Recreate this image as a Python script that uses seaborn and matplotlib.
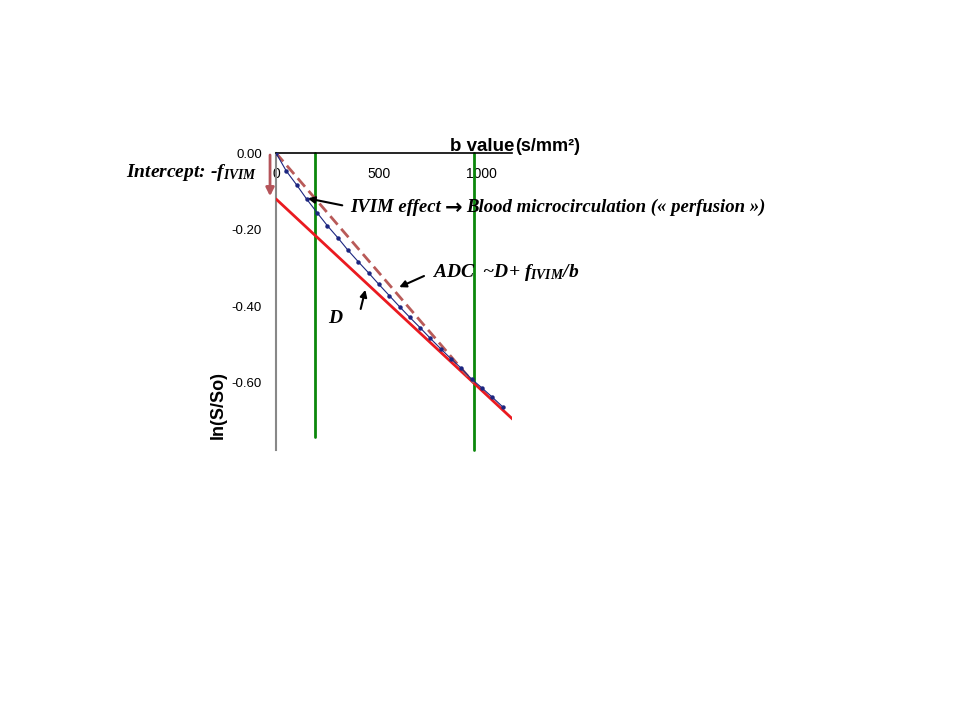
import matplotlib
matplotlib.use("Agg")
import matplotlib.pyplot as plt
import seaborn as sns
import pandas as pd

# ---- data ----
b_values = [0, 50, 100, 150, 200, 250, 300, 350, 400, 450, 500, 550,
            600, 650, 700, 750, 800, 850, 900, 950, 1000, 1050, 1100]
ln_signal = [0.0, -0.047, -0.083, -0.121, -0.156, -0.190, -0.221, -0.254,
             -0.284, -0.313, -0.343, -0.372, -0.401, -0.429, -0.456, -0.484,
             -0.511, -0.537, -0.562, -0.590, -0.613, -0.637, -0.662]
d_b = [0, 1150]
d_line = [-0.12, -0.695]
adc_b = [0, 960]
adc_line = [0.0, -0.60]
green_b = [190, 960]
green_bottom = [-0.741, -0.775]
x_ticks = [0, 500, 1000]
y_ticks = [0.0, -0.2, -0.4, -0.6]

sns.set_style("white")
plt.rcParams['font.family'] = ['Liberation Sans', 'DejaVu Sans']
plt.rcParams['axes.unicode_minus'] = False
plt.rcParams['text.color'] = 'black'
plt.rcParams['xtick.color'] = 'black'
plt.rcParams['ytick.color'] = 'black'
plt.rcParams['axes.labelcolor'] = 'black'
plt.rcParams['mathtext.fontset'] = 'custom'
plt.rcParams['mathtext.it'] = 'Liberation Serif:italic:bold'
plt.rcParams['mathtext.rm'] = 'Liberation Serif:italic:bold'

fig = plt.figure(figsize=(9.6, 7.2), dpi=100)
ax = fig.add_axes([276/960, 1-450/720, 236/960, 297/720])

df = pd.DataFrame({"b": b_values, "ln": ln_signal})
sns.lineplot(data=df, x="b", y="ln", ax=ax, color="#1c2680", lw=0.8,
             marker="o", markersize=3.2, markeredgewidth=0, zorder=4)
sns.lineplot(x=d_b, y=d_line, ax=ax, color="#ea1a20", lw=2, zorder=3)
sns.lineplot(x=adc_b, y=adc_line, ax=ax, color="#b95a58", lw=2,
             zorder=3).lines[-1].set_dashes((4, 2))
for gb, gbot in zip(green_b, green_bottom):
    ax.plot([gb, gb], [0, gbot], color="#0b870b", lw=2, zorder=2,
            clip_on=False)

ax.set_xlim(0, 1146)
ax.set_ylim(-0.775, 0)
ax.set_xticks(x_ticks)
ax.set_yticks(y_ticks)
ax.set_yticklabels([f"{v:.2f}" for v in y_ticks])
ax.set_xlabel("")
ax.set_ylabel("")

for s in ["top", "right"]:
    ax.spines[s].set_visible(False)
ax.spines["bottom"].set_position(("data", 0))
ax.spines["bottom"].set_color("black")
ax.spines["bottom"].set_linewidth(1.2)
ax.spines["left"].set_color("#888888")
ax.spines["left"].set_linewidth(1.5)
ax.tick_params(axis="x", direction="out", length=3, width=1, pad=7,
               labelsize=10, colors="black")
ax.tick_params(axis="y", length=0, pad=10, labelsize=9.5, colors="black")

# axis titles
fig.text(450/960, 1-151/720, "b value", ha="left", va="baseline",
         fontsize=13.5, fontweight="bold")
fig.text(515/960, 1-151/720, "(s/mm²)", ha="left", va="baseline",
         fontsize=13, fontweight="bold")
fig.text(218/960, 1-405/720, "ln(S/So)", ha="center", va="center",
         rotation=90, fontsize=13, fontweight="bold")

# annotations
serif = dict(family=["Liberation Serif", "DejaVu Serif"], fontweight="bold",
             style="italic", fontsize=13.5)
fig.text(126/960, 1-177/720, r"Intercept: -$f_{IVIM}$", ha="left",
         va="baseline", **dict(serif, fontsize=14))
fig.text(350/960, 1-212/720, "IVIM effect", ha="left", va="baseline",
         **serif)
fig.text(445/960, 1-214/720, "\u2192", ha="left", va="baseline",
         family="DejaVu Sans", fontweight="bold", fontsize=15)
fig.text(466/960, 1-212/720, "Blood microcirculation (\u00ab perfusion \u00bb)",
         ha="left", va="baseline", **serif)
fig.text(432/960, 1-277/720, r"ADC  ~D+ $f_{IVIM}$/b", ha="left",
         va="baseline", **dict(serif, fontsize=14))
fig.text(328/960, 1-323/720, "D", ha="left", va="baseline",
         **dict(serif, fontsize=14))

arrow = dict(arrowstyle="-|>", color="black", lw=1.5, mutation_scale=10)
ax.annotate("", xy=(141, -0.117), xytext=(335, -0.138), arrowprops=arrow,
            annotation_clip=False)
ax.annotate("", xy=(586, -0.353), xytext=(731, -0.318), arrowprops=arrow,
            annotation_clip=False)
ax.annotate("", xy=(437, -0.350), xytext=(408, -0.414), arrowprops=arrow,
            annotation_clip=False)
ax.annotate("", xy=(-29, -0.12), xytext=(-29, 0.002),
            arrowprops=dict(arrowstyle="-|>", color="#b5545a", lw=2,
                            mutation_scale=12),
            annotation_clip=False)

fig.savefig("out.png", dpi=100)
